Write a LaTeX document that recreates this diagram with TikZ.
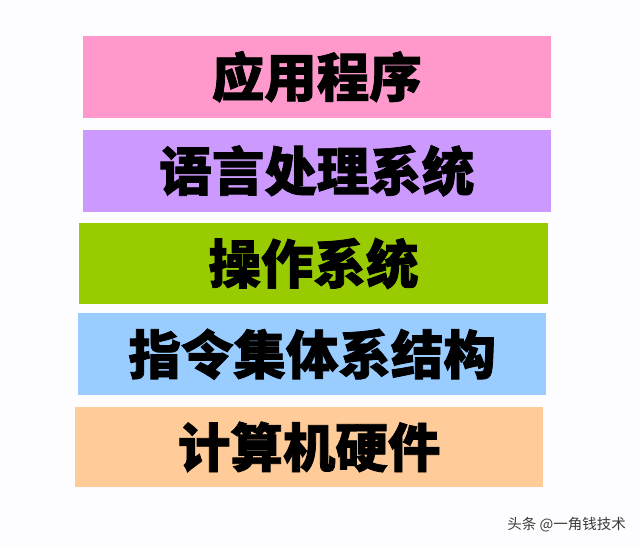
\documentclass[tikz,border=0pt]{standalone}
\usepackage{fontspec}
\newfontfamily\cjk{Noto Sans CJK SC}[BoldFeatures={FakeBold=1.5}]
\definecolor{cpink}{HTML}{FF99CC}
\definecolor{cpurple}{HTML}{CC99FF}
\definecolor{cgreen}{HTML}{99CC00}
\definecolor{cblue}{HTML}{99CCFF}
\definecolor{corange}{HTML}{FFCC99}
\definecolor{cbg}{HTML}{FDFDFF}
\definecolor{cmark}{HTML}{3A3A3A}
\tikzset{
  layer/.style={fill=#1, draw=none},
  label/.style={font=\cjk\bfseries\fontsize{52.5}{58}\selectfont, text=black, inner sep=0pt},
  wmark/.style={font=\cjk\fontsize{14.5}{16}\selectfont, text=cmark, inner sep=0pt, anchor=east}
}
\begin{document}
\begin{tikzpicture}[x=1pt,y=-1pt]
\fill[cbg] (0,0) rectangle (640,548);
\useasboundingbox (0,0) rectangle (640,548);
\fill[layer=cpink] (82.7,36) rectangle (551,117.7);
\node[label] (t1) at (316.8,76.8) {应用程序};
\fill[layer=cpurple] (82.7,130) rectangle (551,211.7);
\node[label] (t2) at (316.8,170.8) {语言处理系统};
\fill[layer=cgreen] (79.3,222.7) rectangle (547.7,304.3);
\node[label] (t3) at (313.5,263.5) {操作系统};
\fill[layer=cblue] (78.3,313.3) rectangle (546,395);
\node[label] (t4) at (312.2,354.2) {指令集体系结构};
\fill[layer=corange] (75,406.7) rectangle (543.3,487.3);
\node[label] (t5) at (309.2,447) {计算机硬件};
\node[wmark] (wm) at (626,525) {头条 @一角钱技术};
\end{tikzpicture}
\end{document}
